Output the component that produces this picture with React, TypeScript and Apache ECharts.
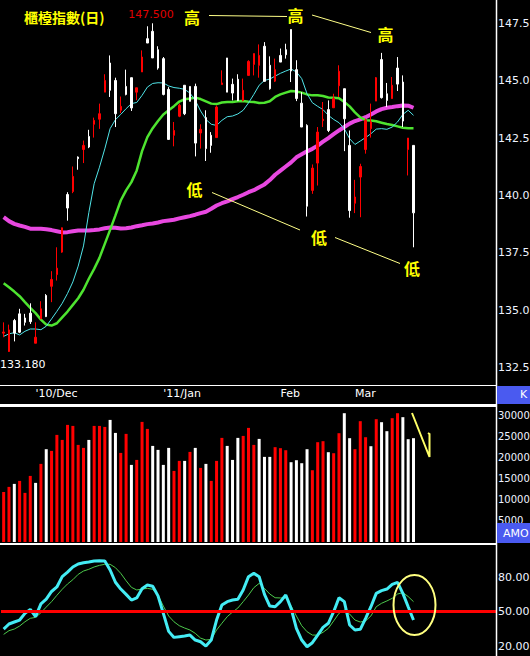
import React, { useEffect, useRef } from "react";
import * as echarts from "echarts";

const SLOTS = 93;
const tickIndex = [6, 30, 52, 66];
const tickLabels = ["'10/Dec", "'11/Jan", "Feb", "Mar"];
const priceTicks = [132.5, 135, 137.5, 140, 142.5, 145, 147.5];
const volumeTicks = [5000, 10000, 15000, 20000, 25000, 30000];
const oscTicks = [20, 50, 80];

const opens = [
  134.0, 133.2, 134.55, 134.84, 134.66, 134.87, 133.56, 134.62, 135.64, 136.04,
  136.55, 137.53, 140.04, 140.17, 141.67, 142.0, 142.57, 143.1, 143.32, 144.5,
  145.77, 145.01, 143.71, 144.75, 145.13, 144.5, 145.38, 146.83, 147.15, 146.35,
  145.96, 144.62, 142.62, 143.45, 144.8, 144.75, 144.75, 142.72, 143.39, 142.62,
  142.52, 144.83, 145.99, 144.84, 145.06, 144.14, 145.23, 145.71, 145.67, 146.5,
  145.67, 144.98, 146.1, 146.35, 147.23, 145.48, 144.02, 143.05, 140.22, 141.41,
  143.26, 143.74, 143.82, 144.78, 144.65, 142.18, 139.66, 140.8, 142.0, 142.91,
  144.11, 145.92, 144.43, 144.22, 145.55, 144.94, 142.0, 142.18,
];
const closes = [
  134.05, 134.14, 134.0, 134.04, 134.47, 134.5, 133.82, 135.06, 134.72, 136.34,
  136.83, 138.59, 139.45, 140.83, 141.6, 142.18, 142.11, 143.27, 143.56, 145.01,
  144.58, 143.56, 143.88, 144.4, 143.81, 144.69, 146.03, 146.64, 145.99, 145.55,
  144.4, 142.44, 142.83, 143.93, 143.56, 144.1, 142.28, 142.88, 142.04, 142.18,
  143.85, 144.9, 144.5, 144.46, 144.14, 144.58, 145.84, 146.18, 146.1, 144.97,
  144.65, 145.48, 145.81, 146.13, 145.42, 144.22, 142.98, 139.53, 141.19, 142.76,
  143.32, 142.83, 144.22, 145.41, 143.34, 139.34, 139.93, 141.26, 143.27, 143.2,
  145.13, 144.26, 144.14, 144.8, 144.85, 143.24, 142.5, 139.24,
];
const lows = [
  133.82, 133.18, 133.64, 134.0, 134.33, 134.4, 133.56, 134.62, 134.7, 135.35,
  136.29, 137.5, 138.9, 140.1, 141.12, 141.41, 142.06, 142.52, 142.9, 144.5,
  144.29, 142.98, 143.59, 144.36, 143.68, 144.15, 145.38, 146.64, 145.99, 145.48,
  144.36, 142.44, 142.14, 143.41, 143.5, 144.1, 141.7, 142.04, 141.5, 141.86,
  142.52, 144.83, 144.5, 144.14, 144.11, 144.1, 145.23, 145.23, 145.13, 144.97,
  144.61, 144.94, 145.81, 145.96, 144.94, 144.11, 142.98, 139.08, 140.07, 140.43,
  142.98, 142.76, 143.82, 144.29, 141.93, 139.03, 139.23, 139.05, 141.82, 142.52,
  144.11, 144.22, 143.85, 144.22, 144.55, 142.98, 140.87, 137.74,
];
const highs = [
  134.47, 134.37, 134.62, 135.06, 134.84, 135.3, 134.47, 135.39, 135.7, 136.7,
  137.74, 138.6, 140.14, 141.26, 141.7, 142.39, 142.86, 143.39, 144.0, 145.28,
  146.1, 145.13, 144.31, 145.48, 145.13, 144.69, 146.32, 147.37, 147.5, 146.5,
  146.03, 144.72, 143.2, 144.0, 144.8, 144.75, 144.87, 143.1, 143.71, 142.76,
  143.92, 145.45, 145.99, 145.09, 145.28, 145.09, 145.89, 146.18, 146.58, 146.68,
  146.06, 145.96, 146.4, 146.61, 147.23, 145.89, 144.5, 143.1, 141.35, 142.98,
  144.07, 144.14, 144.43, 145.67, 144.65, 142.83, 140.68, 141.38, 143.34, 144.0,
  145.16, 146.21, 144.9, 145.16, 146.03, 145.23, 142.5, 142.18,
];
const volumes = [
  11870, 13060, 13770, 14480, 11640, 15660, 14010, 18510, 21990, 21590,
  25380, 24190, 27750, 27510, 23010, 22300, 24190, 27510, 27510, 27270,
  28930, 25850, 21110, 25620, 18270, 19450, 28460, 26800, 22770, 21830,
  18270, 22300, 16850, 19220, 19220, 21350, 22300, 17560, 18510, 14480,
  19220, 24670, 22770, 19450, 24670, 25140, 27040, 23010, 24430, 20170,
  20170, 22470, 22230, 21750, 18910, 19380, 18670, 21990, 17010, 23650,
  23890, 21280, 21040, 25780, 30520, 24600, 21990, 28630, 24830, 22700,
  29100, 28390, 26260, 29340, 30520, 29580, 24360, 24600,
];
const maShort = [
  133.86, 133.97, 134.02, 133.92, 134.08, 134.18, 134.18, 134.15, 134.3, 134.62,
  134.95, 135.3, 135.73, 136.23, 136.92, 137.8, 139.25, 140.51, 141.23, 142.03,
  142.91, 143.3, 143.53, 143.78, 144.0, 144.05, 144.36, 144.72, 144.88, 144.91,
  144.9, 144.77, 144.7, 144.67, 144.62, 144.46, 144.14, 143.68, 143.31, 143.1,
  143.05, 143.27, 143.43, 143.46, 143.55, 143.71, 144.03, 144.4, 144.8, 145.01,
  145.07, 145.2, 145.32, 145.42, 145.51, 145.38, 145.09, 144.43, 144.04, 143.88,
  143.74, 143.49, 143.31, 143.17, 142.91, 142.47, 142.22, 142.37, 142.52, 142.69,
  142.89, 142.91, 142.88, 142.98, 143.2, 143.53, 143.71, 143.49,
];
const maMid = [
  136.17, 136.0, 135.81, 135.61, 135.35, 135.1, 134.87, 134.59, 134.37, 134.33,
  134.43, 134.69, 134.94, 135.23, 135.52, 135.89, 136.37, 136.8, 137.28, 137.89,
  138.5, 139.13, 139.78, 140.22, 140.58, 141.09, 141.93, 142.54, 142.93, 143.24,
  143.53, 143.71, 143.89, 144.09, 144.19, 144.22, 144.26, 144.2, 144.1, 144.0,
  143.98, 144.05, 144.07, 144.07, 144.1, 144.11, 144.08, 144.07, 144.03, 144.04,
  144.1, 144.29, 144.4, 144.48, 144.55, 144.53, 144.48, 144.4, 144.36, 144.36,
  144.33, 144.27, 144.26, 144.23, 144.07, 143.88, 143.62, 143.4, 143.28, 143.26,
  143.23, 143.17, 143.11, 143.07, 143.01, 142.95, 142.93, 142.93,
];
const maLong = [
  139.05, 138.88, 138.76, 138.69, 138.63, 138.55, 138.55, 138.55, 138.53, 138.49,
  138.44, 138.39, 138.4, 138.44, 138.47, 138.47, 138.47, 138.49, 138.52, 138.57,
  138.6, 138.59, 138.56, 138.57, 138.6, 138.66, 138.7, 138.75, 138.78, 138.82,
  138.88, 138.91, 138.94, 139.0, 139.05, 139.1, 139.16, 139.23, 139.29, 139.42,
  139.56, 139.66, 139.74, 139.84, 139.93, 140.03, 140.14, 140.23, 140.36, 140.48,
  140.67, 140.9, 141.08, 141.26, 141.44, 141.66, 141.79, 141.92, 142.03, 142.17,
  142.34, 142.5, 142.67, 142.83, 142.98, 143.13, 143.24, 143.31, 143.41, 143.53,
  143.66, 143.76, 143.82, 143.85, 143.89, 143.92, 143.91, 143.82,
];
const kValues = [
  35.0, 39.4, 41.1, 42.8, 48.6, 52.0, 45.7, 56.8, 60.9, 67.5,
  71.4, 80.3, 84.3, 88.7, 91.3, 92.4, 93.0, 93.9, 94.1, 93.9,
  86.1, 75.5, 69.6, 65.0, 60.1, 61.9, 69.9, 73.1, 72.1, 63.7,
  48.6, 33.0, 27.8, 28.4, 29.0, 29.8, 25.5, 24.0, 20.3, 25.5,
  42.8, 55.8, 58.7, 60.1, 60.7, 68.8, 80.3, 83.2, 80.3, 65.0,
  54.9, 54.3, 58.7, 64.4, 52.9, 35.6, 25.5, 19.7, 23.2, 29.8,
  36.5, 40.0, 50.0, 62.1, 58.7, 38.5, 34.2, 34.8, 44.3, 54.3,
  65.9, 68.2, 69.6, 73.7, 75.4, 65.9, 54.3, 42.8,
];
const dValues = [
  30.4, 33.6, 35.0, 37.6, 41.3, 44.3, 45.1, 49.1, 54.0, 58.7,
  64.2, 69.4, 74.0, 77.7, 82.3, 85.2, 86.7, 88.7, 90.1, 91.0,
  91.0, 88.1, 83.2, 76.8, 71.1, 68.8, 69.6, 70.2, 69.4, 64.4,
  54.9, 46.3, 41.3, 37.9, 35.9, 34.2, 31.3, 27.2, 25.5, 26.1,
  34.2, 40.0, 45.7, 49.7, 53.2, 58.7, 64.4, 70.8, 74.5, 70.2,
  65.3, 62.1, 61.9, 62.1, 54.9, 46.3, 37.9, 32.7, 29.8, 29.8,
  32.2, 35.6, 42.0, 48.6, 51.5, 48.0, 42.8, 41.1, 42.0, 46.3,
  54.3, 57.3, 59.3, 61.6, 65.3, 66.5, 63.1, 58.7,
];

const AXIS_FONT = "DejaVu Sans";
const CJK = '"Noto Sans CJK TC"';

function txt(text: string, x: number, y: number, fill: string, font: string, align = "left") {
  return {
    type: "text",
    x,
    y,
    z: 100,
    style: { text, fill, font, textAlign: align, textVerticalAlign: "middle", align, verticalAlign: "middle" },
  };
}
function seg(x1: number, y1: number, x2: number, y2: number, stroke: string, lineWidth = 1) {
  return { type: "line", z: 90, shape: { x1, y1, x2, y2 }, style: { stroke, lineWidth } };
}

export default function App() {
  const ref = useRef<HTMLDivElement>(null);
  useEffect(() => {
    if (!ref.current) return;
    const chart = echarts.init(ref.current, null, { renderer: "svg" });
    const categories = Array.from({ length: SLOTS }, (_, i) => {
      const k = tickIndex.indexOf(i);
      return k >= 0 ? tickLabels[k] : "";
    });
    const candles = opens.map((o, i) => [o, closes[i], lows[i], highs[i]]);
    const volData = volumes.map((v, i) => ({
      value: v,
      itemStyle: { color: i === 0 || closes[i] >= closes[i - 1] ? "#ff0000" : "#ffffff" },
    }));
    const hiddenX = (idx: number) => ({
      type: "category",
      gridIndex: idx,
      data: categories,
      boundaryGap: true,
      axisLine: { show: false },
      axisTick: { show: false },
      axisLabel: { show: false },
      splitLine: { show: false },
    });
    const yLabel = (ticks: number[], fmt: (v: number) => string, size: number) => ({
      customValues: ticks,
      formatter: (v: number) => fmt(v),
      color: "#eef3ff",
      fontSize: size,
      fontFamily: AXIS_FONT,
      margin: 2,
    });
    const option: any = {
      backgroundColor: "#000000",
      animation: false,
      grid: [
        { left: 1, top: 0, width: 495, height: 385, containLabel: false, outerBoundsMode: "none" },
        { left: 1, top: 407, width: 495, height: 135, containLabel: false, outerBoundsMode: "none" },
        { left: 1, top: 545, width: 495, height: 111, containLabel: false, outerBoundsMode: "none" },
      ],
      xAxis: [
        {
          type: "category",
          gridIndex: 0,
          data: categories,
          boundaryGap: true,
          axisLine: { show: false },
          axisTick: { show: false },
          splitLine: { show: false },
          axisLabel: {
            interval: 0,
            color: "#ffffff",
            fontSize: 11,
            fontFamily: AXIS_FONT,
            align: "left",
            margin: 3,
          },
        },
        hiddenX(1),
        hiddenX(2),
      ],
      yAxis: [
        {
          type: "value",
          gridIndex: 0,
          position: "right",
          min: 131.74,
          max: 148.515,
          axisLine: { show: false },
          axisTick: { show: false },
          splitLine: { show: false },
          axisLabel: yLabel(priceTicks, (v) => v.toFixed(1), 11),
        },
        {
          type: "value",
          gridIndex: 1,
          position: "right",
          min: 0,
          max: 31990,
          axisLine: { show: false },
          axisTick: { show: false },
          splitLine: { show: false },
          axisLabel: yLabel(volumeTicks, (v) => String(v), 10),
        },
        {
          type: "value",
          gridIndex: 2,
          position: "right",
          min: 11.7,
          max: 107.7,
          axisLine: { show: false },
          axisTick: { show: false },
          splitLine: { show: false },
          axisLabel: yLabel(oscTicks, (v) => v.toFixed(2), 11),
        },
      ],
      series: [
        {
          type: "line",
          xAxisIndex: 0,
          yAxisIndex: 0,
          data: maLong,
          symbol: "none",
          silent: true,
          z: 1,
          lineStyle: { color: "#e848e0", width: 4 },
        },
        {
          type: "line",
          xAxisIndex: 0,
          yAxisIndex: 0,
          data: maMid,
          symbol: "none",
          silent: true,
          z: 1,
          lineStyle: { color: "#4ee430", width: 2.5 },
        },
        {
          type: "line",
          xAxisIndex: 0,
          yAxisIndex: 0,
          data: maShort,
          symbol: "none",
          silent: true,
          z: 1,
          lineStyle: { color: "#50e4e8", width: 1 },
        },
        {
          type: "candlestick",
          xAxisIndex: 0,
          yAxisIndex: 0,
          data: candles,
          barWidth: 2,
          silent: true,
          z: 3,
          itemStyle: {
            color: "#ff0000",
            color0: "#ffffff",
            borderColor: "#ff0000",
            borderColor0: "#ffffff",
            borderWidth: 1,
          },
        },
        {
          type: "bar",
          xAxisIndex: 1,
          yAxisIndex: 1,
          data: volData,
          barWidth: 3,
          silent: true,
        },
        {
          type: "line",
          xAxisIndex: 2,
          yAxisIndex: 2,
          data: dValues,
          symbol: "none",
          silent: true,
          lineStyle: { color: "#4cc84c", width: 1 },
          markLine: {
            silent: true,
            symbol: "none",
            label: { show: false },
            lineStyle: { color: "#ff0000", width: 3, type: "solid" },
            data: [{ yAxis: 50 }],
          },
        },
        {
          type: "line",
          xAxisIndex: 2,
          yAxisIndex: 2,
          data: kValues,
          symbol: "none",
          silent: true,
          lineStyle: { color: "#44ecf4", width: 3 },
        },
      ],
      graphic: [
        // frame
        { type: "line", z: 95, shape: { x1: 496.5, y1: 0, x2: 496.5, y2: 656 }, style: { stroke: "#ffffff", lineWidth: 1.5 } },
        { type: "line", z: 95, shape: { x1: 0, y1: 385.5, x2: 496, y2: 385.5 }, style: { stroke: "#ffffff", lineWidth: 1 } },
        { type: "rect", z: 95, shape: { x: 0, y: 404, width: 496, height: 3 }, style: { fill: "#ffffff" } },
        { type: "rect", z: 95, shape: { x: 0, y: 543, width: 496, height: 2 }, style: { fill: "#ffffff" } },
        // blue tabs
        { type: "rect", z: 96, shape: { x: 497, y: 386, width: 33, height: 18 }, style: { fill: "#4a5af0" } },
        txt("K", 520, 394, "#ffffff", `11px "${AXIS_FONT}"`),
        { type: "rect", z: 96, shape: { x: 497, y: 523, width: 33, height: 20 }, style: { fill: "#4a5af0" } },
        txt("AMO", 503, 533, "#ffffff", `11px "${AXIS_FONT}"`),
        // title and labels
        txt("櫃檯指數(日)", 24, 17, "#ffff00", `bold 14px ${CJK}`),
        txt("147.500", 151, 14, "#e00000", `11px "${AXIS_FONT}"`, "center"),
        txt("133.180", 0, 364, "#ffffff", `11px "${AXIS_FONT}"`),
        // 高 annotations
        seg(209, 15.5, 287, 16.5, "#ffff88"),
        seg(312, 15, 371, 32.5, "#ffff88"),
        txt("高", 192, 16.5, "#ffff00", `bold 16px ${CJK}`, "center"),
        txt("高", 295.5, 15, "#ffff00", `bold 16px ${CJK}`, "center"),
        txt("高", 385.5, 34, "#ffff00", `bold 16px ${CJK}`, "center"),
        // 低 annotations
        seg(212, 192.5, 300, 230, "#ffff88"),
        seg(335, 237.5, 400, 263.5, "#ffff88"),
        txt("低", 194.5, 189, "#ffff00", `bold 16px ${CJK}`, "center"),
        txt("低", 319, 236.5, "#ffff00", `bold 16px ${CJK}`, "center"),
        txt("低", 412, 268, "#ffff00", `bold 16px ${CJK}`, "center"),
        // volume hint
        {
          type: "polyline",
          z: 90,
          shape: { points: [[412, 413], [429.5, 457], [429.5, 434], [428, 433]] },
          style: { stroke: "#ffff66", lineWidth: 2, fill: "none" },
        },
        // oscillator ellipse
        {
          type: "ellipse",
          z: 90,
          shape: { cx: 414.5, cy: 605, rx: 21, ry: 30 },
          style: { stroke: "#ffff80", lineWidth: 2, fill: "none" },
        },
      ],
    };
    chart.setOption(option);
    return () => chart.dispose();
  }, []);
  return (
    <div
      ref={ref}
      style={{ position: "absolute", left: 0, top: 0, width: 530, height: 656, background: "#000" }}
    />
  );
}
